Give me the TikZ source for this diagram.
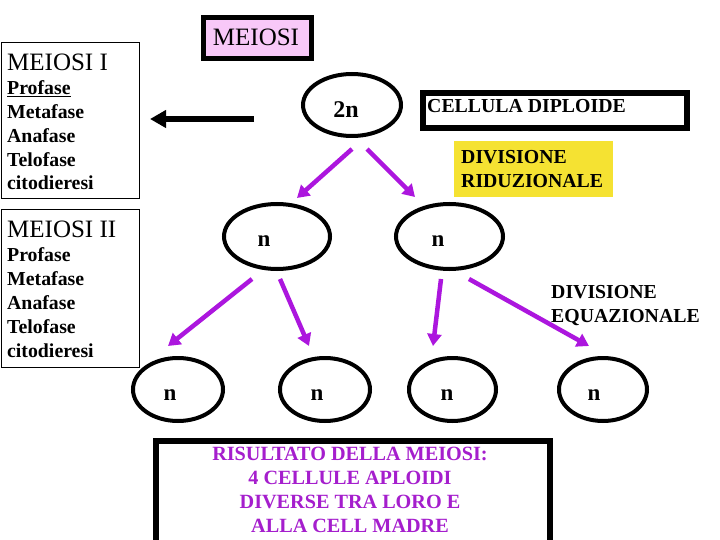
\documentclass[tikz,border=0pt]{standalone}
\usepackage{fontspec}
\setmainfont{Liberation Serif}
\usetikzlibrary{shapes.geometric,arrows.meta}
\definecolor{arrowpurple}{RGB}{172,22,222}
\definecolor{textpurple}{RGB}{165,30,205}
\definecolor{boxpink}{RGB}{248,200,248}
\definecolor{boxyellow}{RGB}{245,226,50}
\tikzset{
  cell/.style={ellipse, draw=black, line width=4pt, inner sep=0pt},
  celltxt/.style={font=\fontsize{23}{26}\selectfont\bfseries, anchor=base, inner sep=0pt},
  phase/.style={font=\fontsize{19.8}{24}\selectfont\bfseries, anchor=base west, inner sep=0pt},
  bigtitle/.style={font=\fontsize{25}{28}\selectfont, anchor=base west, inner sep=0pt},
  lbltxt/.style={font=\fontsize{19.8}{24}\selectfont\bfseries, anchor=base west, inner sep=0pt},
  restxt/.style={font=\fontsize{20.2}{24}\selectfont\bfseries, text=textpurple, anchor=base, inner sep=0pt},
  purplearrow/.style={draw=arrowpurple, line width=4.5pt, -{Triangle[length=12pt,width=14pt]}},
  blackarrow/.style={draw=black, line width=6pt, -{Triangle[length=16pt,width=17pt]}},
  thickbox/.style={draw=black, line width=6pt, inner sep=0pt},
  thinbox/.style={draw=black, line width=1pt, inner sep=0pt}
}
\begin{document}
\begin{tikzpicture}[x=1pt,y=-1pt]
\useasboundingbox (0,0) rectangle (720,540);
\clip (0,0) rectangle (720,540);
\fill[white] (0,0) rectangle (720,540);

% title
\node[draw=black, fill=boxpink, line width=5pt, minimum width=108pt, minimum height=41pt, inner sep=0pt] (title) at (257.5,38.5) {};
\node[font=\fontsize{25}{28}\selectfont, anchor=base, inner sep=0pt] (titletxt) at (256,46) {MEIOSI};

% Meiosi I box
\node[thinbox, minimum width=138pt, minimum height=156pt, anchor=north west] (m1) at (0.5,42.5) {};
\node[bigtitle] (m1t) at (7,71) {MEIOSI I};
\node[phase] (m1a) at (7,95) {\underline{Profase}};
\node[phase] (m1b) at (7,119) {Metafase};
\node[phase] (m1c) at (7,143) {Anafase};
\node[phase] (m1d) at (7,167) {Telofase};
\node[phase] (m1e) at (7,190) {citodieresi};

% Meiosi II box
\node[thinbox, minimum width=138pt, minimum height=157pt, anchor=north west] (m2) at (0.5,209.5) {};
\node[bigtitle] (m2t) at (7,237) {MEIOSI II};
\node[phase] (m2a) at (7,261) {Profase};
\node[phase] (m2b) at (7,285) {Metafase};
\node[phase] (m2c) at (7,309) {Anafase};
\node[phase] (m2d) at (7,333) {Telofase};
\node[phase] (m2e) at (7,357) {citodieresi};

% 2n cell
\node[cell, minimum width=98pt, minimum height=62pt] (c0) at (352,105) {};
\node[celltxt, font=\fontsize{24}{26}\selectfont\bfseries] (c0t) at (346,118) {2n};

% cellula diploide
\node[thickbox, fill=white, minimum width=264pt, minimum height=35pt, anchor=north west] (dip) at (420,90) {};
\node[lbltxt] (diptxt) at (427,113) {CELLULA DIPLOIDE};

% divisione riduzionale
\node[fill=boxyellow, minimum width=159pt, minimum height=56pt, anchor=north west, inner sep=0pt] (rid) at (454,141) {};
\node[lbltxt] (rid1) at (461,164) {DIVISIONE};
\node[lbltxt] (rid2) at (461,188) {RIDUZIONALE};

% level 2 cells
\node[cell, minimum width=106pt, minimum height=65pt] (c1) at (277,236.5) {};
\node[celltxt] (c1t) at (264,247) {n};
\node[cell, minimum width=107pt, minimum height=65pt] (c2) at (449.5,236.5) {};
\node[celltxt] (c2t) at (438,247) {n};

% divisione equazionale
\node[lbltxt] (eq1) at (551,298) {DIVISIONE};
\node[lbltxt] (eq2) at (551,322) {EQUAZIONALE};

% level 3 cells
\node[cell, minimum width=90pt, minimum height=63pt] (d1) at (178,389.5) {};
\node[celltxt] (d1t) at (170,400) {n};
\node[cell, minimum width=90pt, minimum height=63pt] (d2) at (325,389.5) {};
\node[celltxt] (d2t) at (317,400) {n};
\node[cell, minimum width=87pt, minimum height=63pt] (d3) at (452.5,389.5) {};
\node[celltxt] (d3t) at (447,400) {n};
\node[cell, minimum width=88pt, minimum height=63pt] (d4) at (603,389.5) {};
\node[celltxt] (d4t) at (594,400) {n};

% result box
\node[thickbox, minimum width=394pt, minimum height=120pt, anchor=north west] (res) at (153,438) {};
\node[restxt] (r1) at (350,460) {RISULTATO DELLA MEIOSI:};
\node[restxt] (r2) at (350,484) {4 CELLULE APLOIDI};
\node[restxt] (r3) at (350,508) {DIVERSE TRA LORO E};
\node[restxt] (r4) at (350,532) {ALLA CELL MADRE};

% arrow tails and heads
\coordinate (bt) at (254,119);
\coordinate (bh) at (150,119);
\coordinate (a1t) at (352,149);
\coordinate (a1h) at (297,198);
\coordinate (a2t) at (367,149);
\coordinate (a2h) at (415,197);
\coordinate (b1t) at (252,279);
\coordinate (b1h) at (168,346);
\coordinate (b2t) at (280,279);
\coordinate (b2h) at (309,346);
\coordinate (b3t) at (441,279);
\coordinate (b3h) at (433,346);
\coordinate (b4t) at (469,279);
\coordinate (b4h) at (589,346);

\draw[blackarrow] (bt) -- (bh);
\draw[purplearrow] (a1t) -- (a1h);
\draw[purplearrow] (a2t) -- (a2h);
\draw[purplearrow] (b1t) -- (b1h);
\draw[purplearrow] (b2t) -- (b2h);
\draw[purplearrow] (b3t) -- (b3h);
\draw[purplearrow] (b4t) -- (b4h);
\end{tikzpicture}
\end{document}
